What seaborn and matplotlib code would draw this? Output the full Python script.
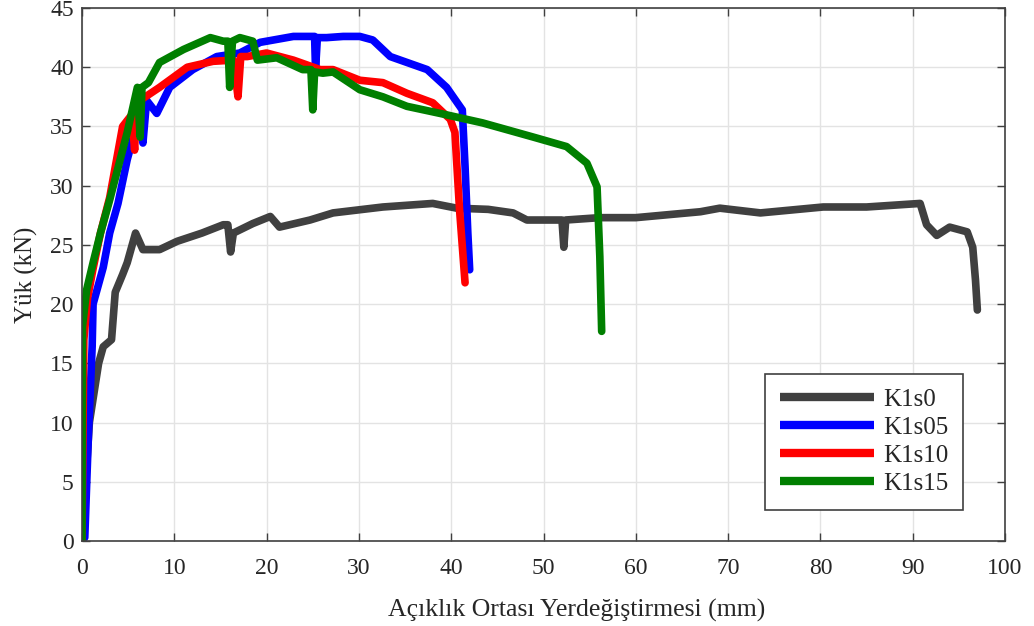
import numpy as np
import pandas as pd
import matplotlib
matplotlib.use("Agg")
import matplotlib.pyplot as plt
import seaborn as sns

# ---- data ----
k1s0_x = [0, 0.8, 1.4, 1.8, 2.3, 3.2, 3.6, 4.4, 4.9, 5.8, 6.6, 8.4, 10.3, 13.0, 15.3, 15.8, 16.1, 16.4, 18.5, 20.4, 21.4, 24.7,
          27.2, 32.6, 38.0, 40.6, 44.0, 46.7, 48.2, 52.0, 52.2, 52.4, 56.1, 60.0, 67.0, 69.1, 73.5, 80.3, 85.0, 90.8,
          91.5, 92.6, 94.0, 95.9, 96.5, 96.8, 97.0]
k1s0_y = [0, 10.0, 13.0, 15.0, 16.4, 17.0, 21.0, 22.5, 23.5, 26.0, 24.6, 24.6, 25.3, 26.0, 26.7, 26.7, 24.4, 26.0, 26.8, 27.4, 26.5, 27.1,
          27.7, 28.2, 28.5, 28.1, 28.0, 27.7, 27.1, 27.1, 24.8, 27.1, 27.3, 27.3, 27.8, 28.1, 27.7, 28.2, 28.2, 28.5,
          26.7, 25.8, 26.5, 26.1, 24.8, 22.0, 19.5]

k1s05_x = [0, 0.3, 0.7, 1.1, 1.2, 2.3, 3.0, 3.9, 4.9, 5.7, 6.3, 6.6, 7.0, 8.1, 9.5, 12.0, 14.6, 17.1, 19.3, 22.9,
           25.2, 25.3, 25.5, 26.5, 28.3, 30.1, 31.5, 33.4, 37.4, 39.5, 41.2, 41.5, 41.8, 42.0]
k1s05_y = [0, 0.3, 9.0, 16.4, 20.0, 23.1, 26.0, 28.5, 32.2, 34.5, 35.6, 33.6, 37.2, 36.1, 38.3, 39.8, 40.9, 41.2, 42.1, 42.6,
           42.6, 39.8, 42.5, 42.5, 42.6, 42.6, 42.3, 40.9, 39.8, 38.3, 36.4, 31.6, 26.0, 22.9]

k1s10_x = [0, 0.2, 0.6, 1.2, 2.0, 3.0, 4.4, 5.4, 5.7, 5.9, 8.4, 11.4, 14.2, 16.4, 16.9, 17.2, 17.9, 20.0, 22.9, 25.8,
           27.2, 30.1, 32.6, 35.2, 38.0, 39.9, 40.4, 40.9, 41.5]
k1s10_y = [0, 17.0, 20.5, 23.0, 26.0, 29.0, 35.0, 36.0, 33.0, 37.0, 38.3, 40.0, 40.5, 40.6, 37.5, 40.9, 40.9, 41.2, 40.6, 39.8,
           39.8, 38.9, 38.7, 37.8, 37.0, 35.6, 34.5, 28.0, 21.8]

k1s15_x = [0, 0.05, 0.5, 1.2, 2.0, 3.0, 4.9, 6.0, 6.3, 6.5, 7.2, 8.4, 11.0, 13.9, 15.3, 15.8, 16.0, 16.3, 17.1, 18.5, 19.0,
           21.1, 23.9, 24.8, 25.0, 25.2, 26.1, 27.2, 30.1, 32.6, 35.2, 38.8, 43.4, 48.9, 52.5, 54.7, 55.8, 56.1, 56.3]
k1s15_y = [0, 18.1, 21.2, 23.5, 26.0, 28.8, 34.5, 38.3, 34.1, 38.3, 38.7, 40.4, 41.5, 42.5, 42.2, 42.2, 38.3, 42.2, 42.5, 42.2, 40.6,
           40.8, 39.8, 39.8, 36.4, 39.6, 39.5, 39.6, 38.1, 37.5, 36.7, 36.1, 35.3, 34.1, 33.3, 31.9, 29.9, 24.0, 17.7]

labels = ["K1s0", "K1s05", "K1s10", "K1s15"]
colors = ["#404040", "#0000ff", "#ff0000", "#007f00"]
x_ticks = [0, 10, 20, 30, 40, 50, 60, 70, 80, 90, 100]
y_ticks = [0, 5, 10, 15, 20, 25, 30, 35, 40, 45]

frames = []
for lab, xs, ys in zip(labels, [k1s0_x, k1s05_x, k1s10_x, k1s15_x], [k1s0_y, k1s05_y, k1s10_y, k1s15_y]):
    frames.append(pd.DataFrame({"x": xs, "y": ys, "Seri": lab}))
df = pd.concat(frames, ignore_index=True)

sns.set_theme(style="whitegrid")
plt.rcParams["font.family"] = ["Liberation Serif", "DejaVu Serif"]

fig = plt.figure(figsize=(10.34, 6.26), dpi=100)
ax = fig.add_axes([0.0793, 0.1358, 0.8927, 0.8514])

sns.lineplot(data=df, x="x", y="y", hue="Seri", hue_order=labels, palette=colors,
             sort=False, estimator=None, units="Seri", lw=5.5, ax=ax, legend=True)

ax.set_xlim(0, 100)
ax.set_ylim(0, 45)
ax.set_xticks(x_ticks)
ax.set_yticks(y_ticks)
ax.grid(True, color="#e3e3e3", lw=1.0)
ax.set_facecolor("white")
for s in ax.spines.values():
    s.set_color("#404040")
    s.set_linewidth(1.2)
ax.tick_params(direction="in", length=6, width=1, color="#404040", top=True, right=True,
               bottom=True, left=True, labelsize=17, labelcolor="#262626")
ax.tick_params(axis="x", pad=12)
ax.tick_params(axis="y", pad=6)
ax.set_xlabel("Açıklık Ortası Yerdeğiştirmesi (mm)", fontsize=18.5, color="#262626")
ax.xaxis.set_label_coords(0.536, -0.13, transform=ax.transAxes)
ax.xaxis.label.set_verticalalignment("center")
ax.set_ylabel("Yük (kN)", fontsize=18, color="#262626", labelpad=9)

leg = ax.legend(loc="lower right", bbox_to_anchor=(0.9545, 0.058), borderaxespad=0, fontsize=18,
                handlelength=3.75, frameon=True, fancybox=False, edgecolor="#404040", framealpha=1,
                borderpad=0.6, labelspacing=0.22, handletextpad=0.35)
leg.get_frame().set_linewidth(1.2)
for h in leg.get_lines():
    h.set_linewidth(6)
    h.set_solid_capstyle("butt")

fig.savefig("out.png", dpi=100, facecolor="white")
